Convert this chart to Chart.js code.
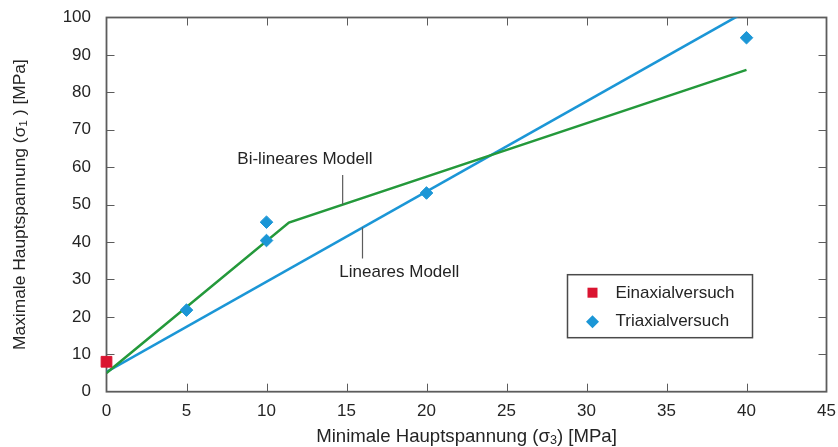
<!DOCTYPE html>
<html>
<head>
<meta charset="utf-8">
<script src="https://cdn.jsdelivr.net/npm/chart.js@4.4.1/dist/chart.umd.min.js"></script>
<style>
  html, body { margin: 0; padding: 0; background: #fff; }
  #wrap { width: 838px; height: 447px; }
</style>
</head>
<body>
<div id="wrap"><canvas id="chart"></canvas></div>
<script>
// Einaxialversuch
const uniaxialX = [0];
const uniaxialY = [8.0];
// Triaxialversuche
const triaxialX = [5, 10, 10, 20, 40];
const triaxialY = [21.8, 40.4, 45.3, 53.1, 94.6];
// Lineares Modell
const linearX = [0, 40];
const linearY = [5.3, 101.7];
// Bi-lineares Modell
const bilinearX = [0, 11.4, 40];
const bilinearY = [5.0, 45.2, 86.0];

const xTicks = [0, 5, 10, 15, 20, 25, 30, 35, 40, 45];
const yTicks = [0, 10, 20, 30, 40, 50, 60, 70, 80, 90, 100];

const FONT = "'Liberation Sans', Arial, sans-serif";
const AXIS = '#5c5c5c';
const TEXT = '#242424';
const BLUE = '#1b96d6';
const GREEN = '#24993b';
const RED = '#da1430';

const pts = (xs, ys) => xs.map((x, i) => ({ x: x, y: ys[i] }));

// Text mit tiefgestellten Teilen, zentriert um (0,0)
function drawSubText(ctx, parts, size) {
  const widths = parts.map(p => {
    ctx.font = (p[1] ? size * 0.68 : size) + 'px ' + FONT;
    return ctx.measureText(p[0]).width;
  });
  let x = -widths.reduce((a, b) => a + b, 0) / 2;
  ctx.textAlign = 'left';
  ctx.textBaseline = 'middle';
  parts.forEach((p, i) => {
    ctx.font = (p[1] ? size * 0.68 : size) + 'px ' + FONT;
    ctx.fillText(p[0], x, p[1] ? size * 0.22 : 0);
    x += widths[i];
  });
}

const framePlugin = {
  id: 'frame',
  beforeDatasetsDraw(chart) {
    const { ctx, chartArea: a, scales } = chart;
    ctx.save();
    ctx.strokeStyle = AXIS;
    ctx.lineWidth = 1;
    const tl = 8;
    xTicks.slice(1, -1).forEach(v => {
      const px = Math.round(scales.x.getPixelForValue(v)) + 0.5;
      ctx.beginPath();
      ctx.moveTo(px, a.bottom); ctx.lineTo(px, a.bottom - tl);
      ctx.moveTo(px, a.top); ctx.lineTo(px, a.top + tl);
      ctx.stroke();
    });
    yTicks.slice(1, -1).forEach(v => {
      const py = Math.round(scales.y.getPixelForValue(v)) + 0.5;
      ctx.beginPath();
      ctx.moveTo(a.left, py); ctx.lineTo(a.left + tl, py);
      ctx.moveTo(a.right, py); ctx.lineTo(a.right - tl, py);
      ctx.stroke();
    });
    ctx.lineWidth = 1.8;
    ctx.strokeRect(a.left, a.top, a.width, a.height);
    ctx.restore();
  }
};

const labelPlugin = {
  id: 'labels',
  afterDatasetsDraw(chart) {
    const { ctx, chartArea: a, scales } = chart;
    const X = v => scales.x.getPixelForValue(v);
    const Y = v => scales.y.getPixelForValue(v);
    ctx.save();

    // Beschriftung der Modelle mit Hinweislinien
    ctx.strokeStyle = AXIS;
    ctx.lineWidth = 1.2;
    ctx.beginPath();
    ctx.moveTo(X(14.76), Y(57.9)); ctx.lineTo(X(14.76), Y(50.0));
    ctx.moveTo(X(16.0), Y(35.6)); ctx.lineTo(X(16.0), Y(43.9));
    ctx.stroke();
    ctx.fillStyle = TEXT;
    ctx.font = '17px ' + FONT;
    ctx.textAlign = 'center';
    ctx.textBaseline = 'middle';
    ctx.fillText('Bi-lineares Modell', X(12.4), Y(62.2));
    ctx.fillText('Lineares Modell', X(18.3), Y(31.8));

    // Legende
    const lx = a.right - 259, ly = a.bottom - 117, lw = 185, lh = 63;
    ctx.fillStyle = '#fff';
    ctx.fillRect(lx, ly, lw, lh);
    ctx.strokeStyle = '#4a4a4a';
    ctx.lineWidth = 1.5;
    ctx.strokeRect(lx, ly, lw, lh);
    const mx = lx + 25;
    ctx.fillStyle = RED;
    ctx.fillRect(mx - 5, ly + 18 - 5, 10, 10);
    ctx.fillStyle = BLUE;
    ctx.beginPath();
    const dy = ly + 47;
    ctx.moveTo(mx - 6.5, dy); ctx.lineTo(mx, dy - 6.5);
    ctx.lineTo(mx + 6.5, dy); ctx.lineTo(mx, dy + 6.5);
    ctx.closePath(); ctx.fill();
    ctx.fillStyle = TEXT;
    ctx.font = '17px ' + FONT;
    ctx.textAlign = 'left';
    ctx.fillText(chart.data.datasets[0].label, lx + 48, ly + 19);
    ctx.fillText(chart.data.datasets[1].label, lx + 48, ly + 47);

    // Achsentitel
    ctx.fillStyle = TEXT;
    ctx.save();
    ctx.translate((a.left + a.right) / 2, 436.5);
    drawSubText(ctx, [['Minimale Hauptspannung (σ', false], ['3', true], [') [MPa]', false]], 18.6);
    ctx.restore();
    ctx.save();
    ctx.translate(20, (a.top + a.bottom) / 2);
    ctx.rotate(-Math.PI / 2);
    drawSubText(ctx, [['Maximale Hauptspannung (σ', false], ['1', true], [' ) [MPa]', false]], 17.4);
    ctx.restore();

    ctx.restore();
  }
};

new Chart(document.getElementById('chart'), {
  type: 'scatter',
  data: {
    datasets: [
      {
        label: 'Einaxialversuch',
        data: pts(uniaxialX, uniaxialY),
        pointStyle: 'rect',
        pointRadius: 7.6,
        backgroundColor: RED,
        borderColor: RED,
        borderWidth: 1,
        clip: false
      },
      {
        label: 'Triaxialversuch',
        data: pts(triaxialX, triaxialY),
        pointStyle: 'rectRot',
        pointRadius: 6.3,
        backgroundColor: BLUE,
        borderColor: BLUE,
        borderWidth: 1,
        clip: false
      },
      {
        label: 'Bi-lineares Modell',
        data: pts(bilinearX, bilinearY),
        showLine: true,
        borderColor: GREEN,
        borderWidth: 2.6,
        pointRadius: 0,
        tension: 0
      },
      {
        label: 'Lineares Modell',
        data: pts(linearX, linearY),
        showLine: true,
        borderColor: BLUE,
        borderWidth: 2.6,
        pointRadius: 0,
        tension: 0
      }
    ]
  },
  options: {
    responsive: true,
    maintainAspectRatio: false,
    animation: false,
    events: [],
    layout: { padding: { top: 17.5, right: 11.5, left: 0, bottom: 0 } },
    plugins: {
      legend: { display: false },
      tooltip: { enabled: false }
    },
    scales: {
      x: {
        min: 0,
        max: 45,
        afterBuildTicks: s => { s.ticks = xTicks.map(v => ({ value: v })); },
        afterFit: s => { s.height = 55.3; s.paddingLeft = 0; s.paddingRight = 0; },
        grid: { display: false, drawTicks: false },
        border: { display: false },
        ticks: { color: TEXT, padding: 9, maxRotation: 0, font: { family: FONT, size: 17 } }
      },
      y: {
        min: 0,
        max: 100,
        afterBuildTicks: s => { s.ticks = yTicks.map(v => ({ value: v })); },
        afterFit: s => { s.width = 106.5; s.paddingTop = 0; s.paddingBottom = 0; },
        grid: { display: false, drawTicks: false },
        border: { display: false },
        ticks: { color: TEXT, padding: 15.5, font: { family: FONT, size: 17 } }
      }
    }
  },
  plugins: [framePlugin, labelPlugin]
});
</script>
</body>
</html>
